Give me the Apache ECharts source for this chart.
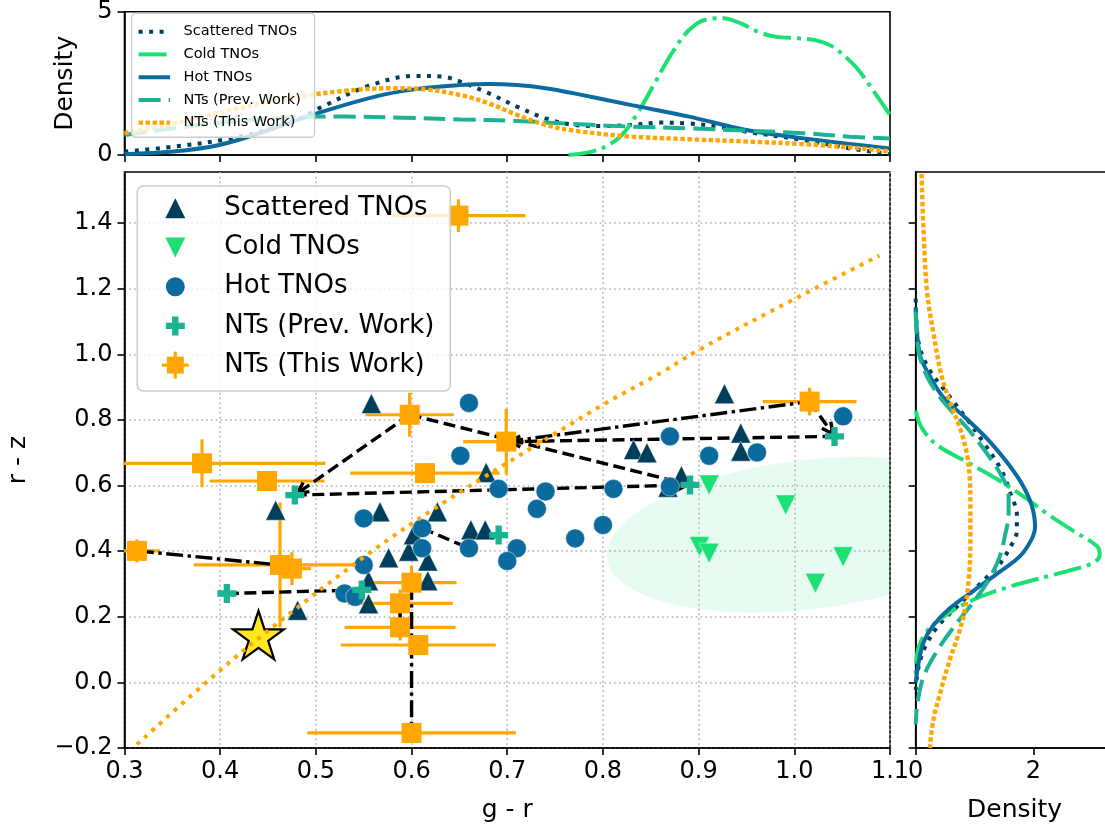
<!DOCTYPE html>
<html>
<head>
<meta charset="utf-8">
<title>g - r vs r - z colours of TNO populations and NTs</title>
<script src="https://cdn.jsdelivr.net/npm/echarts@6/dist/echarts.min.js"></script>
<style>
  html, body { margin: 0; padding: 0; background: #ffffff; }
  #chart { width: 1105px; height: 836px; }
</style>
</head>
<body>
<div id="chart"></div>
<script>
// ---------- colour-colour measurements ----------
const scatteredGR = [0.558, 0.927, 0.458, 0.567, 0.627, 0.576, 0.597, 0.617, 0.617, 0.602, 0.555, 0.555, 0.481, 0.678, 0.662, 0.677, 0.832, 0.846, 0.944, 0.944, 0.882, 0.868];
const scatteredRZ = [0.850, 0.880, 0.525, 0.520, 0.520, 0.380, 0.400, 0.370, 0.310, 0.450, 0.310, 0.240, 0.220, 0.640, 0.465, 0.465, 0.710, 0.700, 0.760, 0.705, 0.630, 0.595];

const coldGR = [0.911, 0.991, 0.901, 0.911, 1.022, 1.051];
const coldRZ = [0.602, 0.541, 0.414, 0.394, 0.302, 0.383];

const hotGR = [0.660, 0.651, 0.550, 0.611, 0.611, 0.660, 0.550, 0.530, 0.541, 0.691, 0.740, 0.731, 0.811, 0.800, 0.771, 0.710, 0.700, 0.870, 0.870, 0.911, 0.961, 1.051];
const hotRZ = [0.852, 0.691, 0.500, 0.470, 0.409, 0.409, 0.358, 0.271, 0.261, 0.590, 0.582, 0.529, 0.590, 0.480, 0.439, 0.409, 0.370, 0.750, 0.597, 0.691, 0.701, 0.811];

const prevGR = [0.478, 0.407, 0.548, 0.691, 0.891, 1.042];
const prevRZ = [0.571, 0.271, 0.282, 0.449, 0.602, 0.750];

const thisGR    = [0.649, 0.598, 0.699, 1.016, 0.381, 0.449, 0.313, 0.4625, 0.475, 0.614, 0.600, 0.588, 0.588, 0.607, 0.600];
const thisRZ    = [1.423, 0.816, 0.734, 0.856, 0.668, 0.614, 0.401, 0.358, 0.347, 0.638, 0.304, 0.241, 0.168, 0.114, -0.154];
const thisGRerr = [0.070, 0.046, 0.045, 0.049, 0.129, 0.060, 0.024, 0.090, 0.020, 0.078, 0.047, 0.055, 0.058, 0.081, 0.109];
const thisRZerr = [0.050, 0.067, 0.100, 0.042, 0.073, 0.020, 0.035, 0.190, 0.050, 0.030, 0.052, 0.042, 0.040, 0.030, 0.020];

// solar colours
const sunGR = [0.440];
const sunRZ = [0.144];

// reddening curve
const reddeningGR = [0.313, 0.396, 0.455, 0.553, 0.635, 0.691, 0.748, 0.804, 0.863, 0.901, 0.999, 1.089];
const reddeningRZ = [-0.189, 0.027, 0.169, 0.388, 0.551, 0.653, 0.755, 0.853, 0.948, 1.015, 1.167, 1.301];

// cold classical region (centre, full width/height and tilt, in colour units)
const coldRegionCenter = [1.013, 0.45];
const coldRegionWidth = 0.507;
const coldRegionHeight = 0.377;
const coldRegionAngle = 57.8;

// links between repeated measurements: [gr1, rz1, gr2, rz2]
const dashedArrowLinks = [
  [0.598, 0.816, 0.478, 0.571],
  [0.598, 0.816, 0.891, 0.602],
  [0.478, 0.571, 0.891, 0.602],
  [1.016, 0.856, 1.042, 0.750],
  [1.042, 0.750, 0.699, 0.734]
];
const dashedLinks = [
  [0.407, 0.271, 0.548, 0.282],
  [0.611, 0.470, 0.660, 0.409]
];
const dashDotLinks = [
  [0.699, 0.734, 1.016, 0.856],
  [0.313, 0.401, 0.4625, 0.358],
  [0.600, 0.304, 0.600, -0.154],
  [0.588, 0.241, 0.588, 0.168]
];

// ---------- marginal densities: g - r ----------
const kdeScatGR = [0.300, 0.351, 0.411, 0.471, 0.507, 0.555, 0.603, 0.633, 0.651, 0.681, 0.710, 0.740, 0.770, 0.800, 0.830, 0.860, 0.890, 0.920, 0.950, 1.010, 1.058, 1.100];
const kdeScatGRd = [0.12, 0.29, 0.58, 1.10, 1.69, 2.41, 2.76, 2.73, 2.56, 2.15, 1.69, 1.28, 1.05, 1.01, 1.05, 1.13, 1.10, 0.99, 0.81, 0.52, 0.23, 0.03];
const kdeColdGR = [0.764, 0.794, 0.818, 0.836, 0.854, 0.872, 0.890, 0.908, 0.926, 0.944, 0.962, 0.980, 1.004, 1.022, 1.040, 1.064, 1.082, 1.100];
const kdeColdGRd = [0.00, 0.17, 0.64, 1.45, 2.50, 3.55, 4.36, 4.73, 4.77, 4.59, 4.30, 4.13, 4.07, 4.01, 3.78, 3.08, 2.27, 1.40];
const kdeHotGR = [0.300, 0.351, 0.399, 0.441, 0.501, 0.561, 0.603, 0.651, 0.681, 0.710, 0.740, 0.770, 0.830, 0.890, 0.950, 1.010, 1.100];
const kdeHotGRd = [0.03, 0.12, 0.35, 0.76, 1.45, 2.03, 2.29, 2.44, 2.48, 2.44, 2.33, 2.15, 1.74, 1.34, 0.87, 0.58, 0.23];
const kdePrevGR = [0.300, 0.351, 0.411, 0.471, 0.501, 0.531, 0.591, 0.651, 0.710, 0.770, 0.830, 0.890, 0.950, 1.010, 1.058, 1.100];
const kdePrevGRd = [0.70, 0.93, 1.16, 1.31, 1.34, 1.34, 1.30, 1.24, 1.19, 1.08, 0.99, 0.93, 0.85, 0.76, 0.64, 0.58];
const kdeThisGR = [0.300, 0.351, 0.411, 0.471, 0.531, 0.579, 0.615, 0.651, 0.681, 0.710, 0.740, 0.770, 0.830, 0.890, 0.950, 1.010, 1.070, 1.100];
const kdeThisGRd = [0.76, 1.10, 1.57, 1.98, 2.24, 2.33, 2.29, 2.09, 1.80, 1.40, 1.05, 0.85, 0.64, 0.55, 0.47, 0.38, 0.23, 0.12];

// ---------- marginal densities: r - z ----------
const kdeScatRZ = [1.170, 1.040, 0.960, 0.882, 0.803, 0.724, 0.646, 0.567, 0.515, 0.462, 0.410, 0.357, 0.305, 0.239, 0.174, 0.108, 0.043, -0.023];
const kdeScatRZd = [0.00, 0.045, 0.21, 0.53, 0.87, 1.18, 1.46, 1.63, 1.72, 1.72, 1.60, 1.41, 1.12, 0.75, 0.39, 0.16, 0.045, 0.00];
const kdeColdRZ = [0.829, 0.777, 0.724, 0.672, 0.620, 0.567, 0.515, 0.462, 0.416, 0.390, 0.364, 0.331, 0.292, 0.252, 0.200, 0.148, 0.082, 0.016];
const kdeColdRZd = [0.00, 0.10, 0.36, 0.87, 1.38, 1.83, 2.23, 2.68, 3.08, 3.13, 3.02, 2.40, 1.60, 0.98, 0.47, 0.16, 0.02, 0.00];
const kdeHotRZ = [1.144, 1.000, 0.934, 0.869, 0.803, 0.738, 0.672, 0.607, 0.541, 0.475, 0.436, 0.384, 0.331, 0.279, 0.226, 0.174, 0.121, 0.056, 0.000];
const kdeHotRZd = [0.00, 0.07, 0.24, 0.47, 0.87, 1.24, 1.55, 1.80, 1.97, 2.03, 1.97, 1.77, 1.38, 0.98, 0.58, 0.30, 0.13, 0.045, 0.00];
const kdePrevRZ = [1.130, 1.013, 0.934, 0.856, 0.777, 0.698, 0.620, 0.567, 0.515, 0.449, 0.384, 0.318, 0.252, 0.174, 0.095, 0.016, -0.063, -0.128];
const kdePrevRZd = [0.00, 0.045, 0.19, 0.47, 0.87, 1.21, 1.49, 1.58, 1.58, 1.52, 1.43, 1.26, 1.01, 0.67, 0.36, 0.13, 0.03, 0.00];
const kdeThisRZ = [1.550, 1.393, 1.197, 1.066, 0.934, 0.856, 0.777, 0.698, 0.620, 0.541, 0.436, 0.331, 0.226, 0.148, 0.069, -0.036, -0.115, -0.200];
const kdeThisRZd = [0.10, 0.13, 0.19, 0.30, 0.44, 0.58, 0.75, 0.87, 0.92, 0.93, 0.93, 0.91, 0.84, 0.73, 0.58, 0.41, 0.30, 0.24];

// ---------- axis ticks ----------
const grTicks = [0.3, 0.4, 0.5, 0.6, 0.7, 0.8, 0.9, 1.0, 1.1];
const rzTicks = [-0.2, 0.0, 0.2, 0.4, 0.6, 0.8, 1.0, 1.2, 1.4];
const densityTopTicks = [0, 5];
const densityRightTicks = [0, 2];

const groupNames = ['Scattered TNOs', 'Cold TNOs', 'Hot TNOs', 'NTs (Prev. Work)', 'NTs (This Work)'];

// ---------- styling ----------
const FONT = 'DejaVu Sans';
const C_SCAT = '#003f5c';
const C_COLD = '#1de074';
const C_HOT = '#0b6b9f';
const C_PREV = '#1ab394';
const C_THIS = '#ffa600';
const GRID_DOT = { color: '#b0b0b0', width: 1.6, type: [1.6, 3.2] };
const LINK_W = 3.4;

const kdeStyles = [
  { color: C_SCAT, width: 4, type: [4, 6.5] },
  { color: C_COLD, width: 4, type: [28, 6, 4, 6] },
  { color: C_HOT, width: 4, type: 'solid' },
  { color: C_PREV, width: 4, type: [22, 8] },
  { color: C_THIS, width: 4.4, type: [4.4, 2.6] }
];

const fmtSigned = v => (Math.abs(v) < 1e-9 ? '0.0' : (v < 0 ? '\u2212' : '') + Math.abs(v).toFixed(1));

const zip = (a, b) => a.map((v, i) => [v, b[i]]);

const starPath = (() => {
  let d = '';
  for (let k = 0; k < 10; k++) {
    const r = k % 2 === 0 ? 1 : 0.382;
    const ang = (-90 + 36 * k) * Math.PI / 180;
    d += (k === 0 ? 'M' : 'L') + (r * Math.cos(ang)).toFixed(4) + ',' + (r * Math.sin(ang)).toFixed(4) + ' ';
  }
  return 'path://' + d + 'Z';
})();
const plusPath = 'path://M-3,-1 L-1,-1 L-1,-3 L1,-3 L1,-1 L3,-1 L3,1 L1,1 L1,3 L-1,3 L-1,1 L-3,1 Z';
const downTriPath = 'path://M0,0 L2,0 L1,2 Z';

function baseAxis(extra) {
  return Object.assign({
    type: 'value',
    axisLine: { show: true, onZero: false, lineStyle: { color: '#000', width: 1.6 } },
    axisTick: { show: true, inside: false, length: 7, lineStyle: { color: '#000', width: 1.6 } },
    axisLabel: { show: true, color: '#000', fontFamily: FONT, fontSize: 24, margin: 12 },
    splitLine: { show: false },
    nameTextStyle: { color: '#000', fontFamily: FONT, fontSize: 25 }
  }, extra);
}

// error bars of the new measurements
const errorBarSeries = {
  type: 'custom', name: 'errbars', xAxisIndex: 1, yAxisIndex: 1, clip: true, silent: true,
  data: thisGR.map((g, i) => [g, thisRZ[i], thisGRerr[i], thisRZerr[i]]),
  renderItem(params, api) {
    const x = api.value(0), y = api.value(1), ex = api.value(2), ey = api.value(3);
    const l = api.coord([x - ex, y]), r = api.coord([x + ex, y]);
    const t = api.coord([x, y + ey]), b = api.coord([x, y - ey]);
    const style = { stroke: C_THIS, lineWidth: 3.2 };
    return {
      type: 'group',
      children: [
        { type: 'line', shape: { x1: l[0], y1: l[1], x2: r[0], y2: r[1] }, style },
        { type: 'line', shape: { x1: t[0], y1: t[1], x2: b[0], y2: b[1] }, style }
      ]
    };
  }
};

function linkSeries(segs, dash, withArrow) {
  return {
    type: 'custom', xAxisIndex: 1, yAxisIndex: 1, clip: true, silent: true,
    data: segs,
    renderItem(params, api) {
      const p1 = api.coord([api.value(0), api.value(1)]);
      const p2 = api.coord([api.value(2), api.value(3)]);
      const children = [];
      let end = p2;
      if (withArrow) {
        const dx = p2[0] - p1[0], dy = p2[1] - p1[1];
        const L = Math.hypot(dx, dy), ux = dx / L, uy = dy / L;
        end = [p2[0] - ux * 3, p2[1] - uy * 3];
        const hl = 11, hw = 5.5;
        const bx = end[0] - ux * hl, by = end[1] - uy * hl;
        children.push({
          type: 'polyline',
          shape: { points: [[bx - uy * hw, by + ux * hw], end, [bx + uy * hw, by - ux * hw]] },
          style: { stroke: '#000', lineWidth: LINK_W, fill: 'none' }
        });
      }
      children.unshift({
        type: 'line',
        shape: { x1: p1[0], y1: p1[1], x2: end[0], y2: end[1] },
        style: { stroke: '#000', lineWidth: LINK_W, lineDash: dash }
      });
      return { type: 'group', children };
    }
  };
}

const coldRegionSeries = {
  type: 'custom', xAxisIndex: 1, yAxisIndex: 1, clip: true, silent: true,
  data: [coldRegionCenter],
  renderItem(params, api) {
    const cx = api.value(0), cy = api.value(1);
    const a = coldRegionWidth / 2, b = coldRegionHeight / 2, th = coldRegionAngle * Math.PI / 180;
    const pts = [];
    for (let i = 0; i <= 160; i++) {
      const t = i / 160 * 2 * Math.PI;
      const ex = a * Math.cos(t), ey = b * Math.sin(t);
      pts.push(api.coord([cx + ex * Math.cos(th) - ey * Math.sin(th), cy + ex * Math.sin(th) + ey * Math.cos(th)]));
    }
    return { type: 'polygon', shape: { points: pts }, style: { fill: 'rgba(29,224,116,0.11)' } };
  }
};

function kdeSeries(name, data, xi, yi, style) {
  return {
    type: 'line', name, xAxisIndex: xi, yAxisIndex: yi, data,
    smooth: 0.35, showSymbol: false, symbol: 'none', clip: true, silent: true,
    lineStyle: Object.assign({ cap: 'butt' }, style)
  };
}

const LEGEND_Z = 100;

// legend of the marginal panel
function topLegend() {
  const rows = [18.4, 41.1, 63.9, 86.6, 109.3];
  const children = [{
    type: 'rect', z: LEGEND_Z, shape: { x: 0, y: 0, width: 183, height: 124, r: 4 },
    style: { fill: 'rgba(255,255,255,0.8)', stroke: '#cccccc', lineWidth: 1.4 }
  }];
  groupNames.forEach((n, i) => {
    const s = kdeStyles[i];
    children.push({
      type: 'line', z: LEGEND_Z + 1, shape: { x1: 7, y1: rows[i], x2: 38.5, y2: rows[i] },
      style: { stroke: s.color, lineWidth: s.width, lineDash: s.type === 'solid' ? null : s.type }
    });
    children.push({
      type: 'text', z: LEGEND_Z + 1, x: 52, y: rows[i],
      style: { text: n, fontFamily: FONT, fontSize: 14.5, fill: '#000', verticalAlign: 'middle', align: 'left' }
    });
  });
  return { type: 'group', x: 131.6, y: 13.3, z: LEGEND_Z, silent: true, children };
}

// legend of the colour-colour panel
function mainLegend() {
  const rows = [22.3, 61.5, 100.7, 139.9, 179.1];
  const ix = 38, tx = 87, Z = LEGEND_Z + 1;
  const children = [{
    type: 'rect', z: LEGEND_Z, shape: { x: 0, y: 0, width: 313, height: 205, r: 6 },
    style: { fill: 'rgba(255,255,255,0.8)', stroke: '#cccccc', lineWidth: 1.6 }
  }];
  children.push({ type: 'polygon', z: Z, shape: { points: [[ix, rows[0] - 10], [ix - 10, rows[0] + 10], [ix + 10, rows[0] + 10]] }, style: { fill: C_SCAT } });
  children.push({ type: 'polygon', z: Z, shape: { points: [[ix - 10, rows[1] - 10], [ix + 10, rows[1] - 10], [ix, rows[1] + 10]] }, style: { fill: C_COLD } });
  children.push({ type: 'circle', z: Z, shape: { cx: ix, cy: rows[2], r: 9.5 }, style: { fill: C_HOT } });
  const a = 3.2, o = 9.5, y3 = rows[3];
  children.push({
    type: 'polygon', z: Z,
    shape: { points: [[ix - o, y3 - a], [ix - a, y3 - a], [ix - a, y3 - o], [ix + a, y3 - o], [ix + a, y3 - a], [ix + o, y3 - a], [ix + o, y3 + a], [ix + a, y3 + a], [ix + a, y3 + o], [ix - a, y3 + o], [ix - a, y3 + a], [ix - o, y3 + a]] },
    style: { fill: C_PREV }
  });
  const y4 = rows[4];
  children.push({ type: 'line', z: Z, shape: { x1: ix - 13.5, y1: y4, x2: ix + 13.5, y2: y4 }, style: { stroke: C_THIS, lineWidth: 3.2 } });
  children.push({ type: 'line', z: Z, shape: { x1: ix, y1: y4 - 13.5, x2: ix, y2: y4 + 13.5 }, style: { stroke: C_THIS, lineWidth: 3.2 } });
  children.push({ type: 'rect', z: Z, shape: { x: ix - 8.5, y: y4 - 8.5, width: 17, height: 17 }, style: { fill: C_THIS } });
  groupNames.forEach((n, i) => {
    children.push({
      type: 'text', z: Z, x: tx, y: rows[i],
      style: { text: n, fontFamily: FONT, fontSize: 26, fill: '#000', verticalAlign: 'middle', align: 'left' }
    });
  });
  return { type: 'group', x: 137.3, y: 186, z: LEGEND_Z, silent: true, children };
}

const gridFrame = { show: true, borderColor: '#000', borderWidth: 1.6, backgroundColor: 'transparent', containLabel: false, outerBoundsMode: 'none' };

const option = {
  animation: false,
  backgroundColor: '#ffffff',
  textStyle: { fontFamily: FONT },
  grid: [
    Object.assign({ left: 124.5, top: 11.7, width: 765.5, height: 143.3 }, gridFrame),
    Object.assign({ left: 124.5, top: 172, width: 765.5, height: 576 }, gridFrame),
    Object.assign({ left: 915.7, top: 172, width: 205.8, height: 576 }, gridFrame)
  ],
  xAxis: [
    baseAxis({
      gridIndex: 0, min: 0.3, max: 1.1, interval: 0.1,
      axisLabel: { show: false },
      axisTick: { show: true, length: 7, customValues: grTicks, lineStyle: { color: '#000', width: 1.6 } }
    }),
    baseAxis({
      gridIndex: 1, min: 0.3, max: 1.1, interval: 0.1,
      name: 'g - r', nameLocation: 'middle', nameGap: 50,
      axisLabel: { color: '#000', fontFamily: FONT, fontSize: 24, margin: 12, customValues: grTicks, formatter: v => v.toFixed(1) },
      axisTick: { show: true, length: 7, customValues: grTicks, lineStyle: { color: '#000', width: 1.6 } },
      splitLine: { show: true, lineStyle: GRID_DOT }
    }),
    baseAxis({
      gridIndex: 2, min: 0, max: 3.5, interval: 2,
      name: 'Density', nameLocation: 'middle', nameGap: 50,
      nameTextStyle: { color: '#000', fontFamily: FONT, fontSize: 25, padding: [0, 8, 0, 0] },
      axisLabel: { color: '#000', fontFamily: FONT, fontSize: 24, margin: 12, customValues: densityRightTicks, formatter: v => String(Math.round(v)) },
      axisTick: { show: true, length: 7, customValues: densityRightTicks, lineStyle: { color: '#000', width: 1.6 } }
    })
  ],
  yAxis: [
    baseAxis({
      gridIndex: 0, min: 0, max: 5, interval: 5,
      name: 'Density', nameLocation: 'middle', nameGap: 47, nameRotate: 90,
      axisLabel: { color: '#000', fontFamily: FONT, fontSize: 24, margin: 12, customValues: densityTopTicks, formatter: v => String(Math.round(v)) },
      axisTick: { show: true, length: 7, customValues: densityTopTicks, lineStyle: { color: '#000', width: 1.6 } }
    }),
    baseAxis({
      gridIndex: 1, min: -0.2, max: 1.556, interval: 0.2,
      name: 'r - z', nameLocation: 'middle', nameGap: 94, nameRotate: 90,
      axisLabel: { color: '#000', fontFamily: FONT, fontSize: 24, margin: 12, customValues: rzTicks, formatter: fmtSigned },
      axisTick: { show: true, length: 7, customValues: rzTicks, lineStyle: { color: '#000', width: 1.6 } },
      splitLine: { show: true, lineStyle: GRID_DOT }
    }),
    baseAxis({
      gridIndex: 2, min: -0.2, max: 1.556, interval: 0.2,
      axisLabel: { show: false },
      axisTick: { show: true, length: 7, customValues: rzTicks, lineStyle: { color: '#000', width: 1.6 } }
    })
  ],
  graphic: [topLegend(), mainLegend()],
  series: [
    // marginal densities, g - r
    kdeSeries(groupNames[0], zip(kdeScatGR, kdeScatGRd), 0, 0, kdeStyles[0]),
    kdeSeries(groupNames[1], zip(kdeColdGR, kdeColdGRd), 0, 0, kdeStyles[1]),
    kdeSeries(groupNames[2], zip(kdeHotGR, kdeHotGRd), 0, 0, kdeStyles[2]),
    kdeSeries(groupNames[3], zip(kdePrevGR, kdePrevGRd), 0, 0, kdeStyles[3]),
    kdeSeries(groupNames[4], zip(kdeThisGR, kdeThisGRd), 0, 0, kdeStyles[4]),
    // marginal densities, r - z
    kdeSeries(groupNames[0], zip(kdeScatRZd, kdeScatRZ), 2, 2, kdeStyles[0]),
    kdeSeries(groupNames[1], zip(kdeColdRZd, kdeColdRZ), 2, 2, kdeStyles[1]),
    kdeSeries(groupNames[2], zip(kdeHotRZd, kdeHotRZ), 2, 2, kdeStyles[2]),
    kdeSeries(groupNames[3], zip(kdePrevRZd, kdePrevRZ), 2, 2, kdeStyles[3]),
    kdeSeries(groupNames[4], zip(kdeThisRZd, kdeThisRZ), 2, 2, kdeStyles[4]),
    // colour-colour panel
    coldRegionSeries,
    {
      type: 'line', name: 'reddening', xAxisIndex: 1, yAxisIndex: 1,
      data: zip(reddeningGR, reddeningRZ), smooth: 0.4, showSymbol: false, symbol: 'none', clip: true, silent: true,
      lineStyle: { color: C_THIS, width: 4, type: [4, 6] }
    },
    {
      type: 'scatter', name: groupNames[0], xAxisIndex: 1, yAxisIndex: 1, data: zip(scatteredGR, scatteredRZ),
      symbol: 'triangle', symbolSize: 20, silent: true,
      itemStyle: { color: C_SCAT, opacity: 1, borderColor: 'rgba(255,255,255,0.55)', borderWidth: 0.8 }
    },
    {
      type: 'scatter', name: groupNames[1], xAxisIndex: 1, yAxisIndex: 1, data: zip(coldGR, coldRZ),
      symbol: downTriPath, symbolSize: 20, silent: true,
      itemStyle: { color: C_COLD, opacity: 1, borderColor: 'rgba(255,255,255,0.55)', borderWidth: 0.8 }
    },
    {
      type: 'scatter', name: groupNames[2], xAxisIndex: 1, yAxisIndex: 1, data: zip(hotGR, hotRZ),
      symbol: 'circle', symbolSize: 19, silent: true,
      itemStyle: { color: C_HOT, opacity: 1, borderColor: 'rgba(255,255,255,0.55)', borderWidth: 0.8 }
    },
    {
      type: 'scatter', name: groupNames[3], xAxisIndex: 1, yAxisIndex: 1, data: zip(prevGR, prevRZ),
      symbol: plusPath, symbolSize: 19, silent: true,
      itemStyle: { color: C_PREV, opacity: 1 }
    },
    errorBarSeries,
    {
      type: 'scatter', name: groupNames[4], xAxisIndex: 1, yAxisIndex: 1, data: zip(thisGR, thisRZ),
      symbol: 'rect', symbolSize: 20, silent: true,
      itemStyle: { color: C_THIS, opacity: 1 }
    },
    linkSeries(dashedArrowLinks, [12, 5.5], true),
    linkSeries(dashedLinks, [12, 5.5], false),
    linkSeries(dashDotLinks, [17, 4.5, 3.4, 4.5], false),
    {
      type: 'scatter', name: 'Sun', xAxisIndex: 1, yAxisIndex: 1, data: zip(sunGR, sunRZ),
      symbol: starPath, symbolSize: [51, 48.5], silent: true,
      itemStyle: { color: '#ffe81f', borderColor: '#000', borderWidth: 2.2, opacity: 1 }
    }
  ]
};

const chart = echarts.init(document.getElementById('chart'), null, { renderer: 'canvas' });
chart.setOption(option);
</script>
</body>
</html>
